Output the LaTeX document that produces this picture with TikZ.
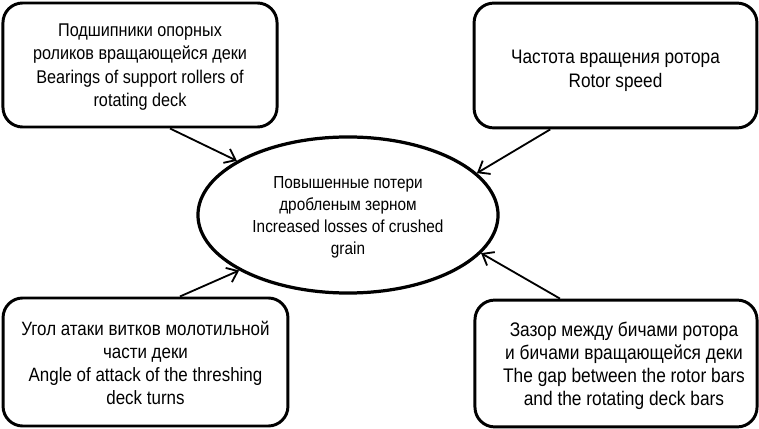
\documentclass[tikz,border=0pt]{standalone}
\usepackage{fontspec}
\setmainfont{Liberation Sans}[FakeStretch=0.88]
\usepackage{tikz}
\usetikzlibrary{shapes, shapes.geometric, arrows.meta}

\begin{document}
\begin{tikzpicture}[x=0.025cm, y=0.025cm,
  box/.style={draw, line width=2.1pt, rounded corners=14pt, align=center,
    inner sep=0pt, font=\fontsize{13.7}{16.4}\selectfont},
  goal/.style={draw, ellipse, line width=2.3pt, align=center, inner sep=0pt,
    minimum width=7.5cm, minimum height=3.9cm,
    font=\fontsize{12.4}{15.5}\selectfont},
  feed/.style={line width=1.3pt, -{Straight Barb[length=7pt, width=11pt, line width=1.3pt]}}]
\useasboundingbox (0,0) rectangle (759,429);
% the four factors
\node[box, minimum width=6.85cm, minimum height=3.1cm,
  font=\fontsize{13.1}{16.4}\selectfont] (bear) at (140,364)
  {\rule{0pt}{12pt}Подшипники опорных\\роликов вращающейся деки\\Bearings of support rollers of\\rotating deck};
\node[box, minimum width=7.07cm, minimum height=3.12cm,
  font=\fontsize{13.9}{16.6}\selectfont] (speed) at (615.5,363.5)
  {\rule{0pt}{17pt}Частота вращения ротора\\Rotor speed};
\node[box, minimum width=7.12cm, minimum height=3.2cm] (angle) at (145.5,67)
  {\rule{0pt}{12pt}Угол атаки витков молотильной\\части деки\\Angle of attack of the threshing\\deck turns};
\node[box, minimum width=7.05cm, minimum height=3.17cm,
  font=\fontsize{14}{16.4}\selectfont] (gap) at (616,65.5)
  {\hspace*{0.4cm}\rule{0pt}{14pt}Зазор между бичами ротора\\
   \hspace*{0.4cm}и бичами вращающейся деки\\
   \hspace*{0.4cm}The gap between the rotor bars\\
   \hspace*{0.4cm}and the rotating deck bars};
% the result
\node[goal] (loss) at (348,214)
  {\rule{0pt}{12pt}Повышенные потери\\дробленым зерном\\Increased losses of crushed\\grain};
% arrows into the ellipse
\draw[feed] ([xshift=0.75cm]bear.south) -- (loss.154);
\draw[feed] ([xshift=-1.63cm]speed.south) -- (loss.18);
\draw[feed] ([xshift=0.86cm]angle.north) -- (loss.207);
\draw[feed] ([xshift=-1.4cm]gap.north) -- (loss.-16);
\end{tikzpicture}
\end{document}
